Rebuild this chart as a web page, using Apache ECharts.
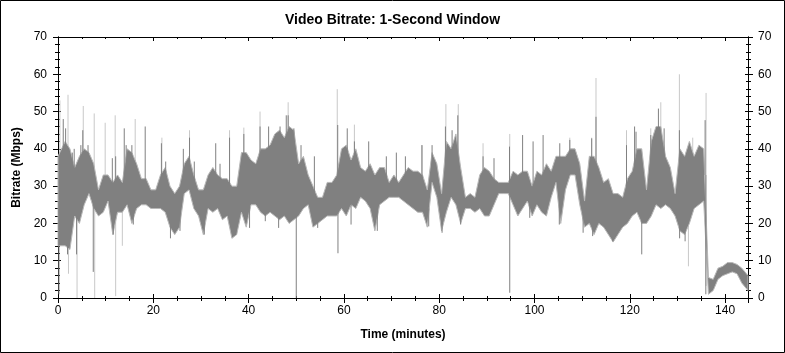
<!DOCTYPE html>
<html>
<head>
<meta charset="utf-8">
<script src="https://cdn.jsdelivr.net/npm/echarts@6/dist/echarts.min.js"></script>
<style>
html,body{margin:0;padding:0;background:#fff;}
#chart{width:785px;height:353px;}
</style>
</head>
<body>
<div id="chart"></div>
<script>
// Per-minute core envelope of the 1-second bitrate trace (Mbps).
// Bucket i covers minute i..i+1; hiValues = upper edge of the dense band, loValues = lower edge.
const hiValues = [
  38,42,40,35,38,40,39,36,29,33,
  33,31,33,31,40,39,36,32,32,29,
  29,33,35,30,28,30,36,38,33,29,
  29,33,35,33,32,32,30,30,39,39,
  37,36,40,40,41,44,45,43,46,45,
  36,38,33,30,27,27,31,31,33,40,
  41,37,40,35,34,36,33,35,35,31,
  33,31,33,35,34,34,33,29,39,36,
  28,42,40,44,35,27,28,27,33,35,
  34,32,31,31,31,34,33,34,34,30,
  34,33,36,34,38,38,38,40,40,36,
  26,38,38,35,31,32,28,28,27,32,
  34,40,40,29,42,46,46,38,35,28,
  40,38,42,38,41,40,5.5,5,8,8.5,
  9.5,9.5,9,8,6
];
const loValues = [
  14,14,13,22,20,25,28,24,22,23,
  26,17,23,23,25,20,24,25,25,24,
  24,24,23,19,17,19,28,29,24,22,
  17,24,23,24,21,22,16,17,23,19,
  25,25,23,22,23,22,21,22,20,21,
  22,24,25,19,20,21,22,22,22,24,
  22,25,24,27,26,24,18,25,26,27,
  27,27,26,25,24,23,23,19,31,27,
  18,23,27,25,20,24,24,23,24,22,
  22,25,28,28,28,25,22,24,26,22,
  25,23,22,27,31,20,29,33,33,25,
  19,20,17,20,19,17,15,17,19,20,
  22,23,20,20,22,25,24,25,24,22,
  18,17,20,24,25,26,1,2,5,6,
  6.5,7,6.5,4,2
];
// Isolated dark-grey excursions beyond the band: minutes / Mbps
const spikeTimes = [
  0.2,1.1,1.6,2.0,3.0,3.4,3.9,4.8,5.2,6.3,7.4,11.4,11.6,12.1,13.9,14.3,15.5,15.8,18.3,21.7,
  22.6,23.6,25.6,26.3,27.6,28.6,30.7,33.1,34.0,36.0,37.3,39.0,40.2,42.4,43.5,44.2,46.3,46.6,47.9,48.3,
  49.5,50.0,51.0,53.8,54.5,58.7,58.75,60.7,61.5,62.2,65.2,67.0,68.9,71.0,72.9,76.4,77.8,78.5,80.6,81.3,
  82.7,83.9,84.5,89.2,91.5,94.75,94.8,97.5,99.0,99.7,101.8,105.2,105.3,107.4,110.2,112.0,112.2,112.9,116.4,119.3,
  121.0,121.3,122.5,124.4,126.0,127.2,130.4,130.45,131.6,135.8,135.95
];
const spikeValues = [
  1,48,45.5,11.7,39,40,11.7,41,45,41,7,37.5,17,38,45.5,41,41,19.7,46,41.5,
  36.6,16,18,40,43,36.6,17,41.5,36,43,17,44,18.8,46,20.6,46,18.8,46,49,49,
  45.5,0,41,38,18.8,46.4,12,45.5,19.7,42,42,18,38,39,38,41,19.2,41,17.5,46,
  45,49,19.7,38,37.5,40.6,1.4,43.7,21.5,42,43.7,19.7,41.5,42.4,17.5,42.8,16.6,48.6,15.2,41,
  46,44.6,11.7,43.7,50.8,45.5,45,16,15.2,47.7,1
];
// Isolated light-grey peaks: minutes / Mbps
const peakTimes  = [0.4,2.1,2.2,4.0,5.3,7.6,7.7,9.9,12.0,12.1,13.5,16.2,21.8,27.6,36.0,39.0,42.4,48.3,58.6,62.2,76.3,81.4,84.0,89.2,94.8,107.4,112.0,112.9,119.3,124.4,126.5,130.4,132.3,133.2,136.0];
const peakValues = [53,54.5,6.5,0,51.5,49.5,0,47,49,0.5,14,48,43,45,45,45.7,50,52.5,56,46.5,41,52,52,41.5,44,43,43,59,45,45.5,52.5,60,8.5,43,55];

const yTicks = {min:0, max:70, interval:10};
const xTicks = {min:0, max:144.8, interval:20};

// Band data: [time, hi, lo] at each bucket centre
const band = hiValues.map((h, i) => {
  let t = i + 0.5;
  if (i === 0) t = xTicks.min;
  if (i === hiValues.length - 1) t = xTicks.max;
  return [t, h, loValues[i]];
});
function spikeLines(times, values) {
  const out = [];
  for (let k = 0; k < times.length; k++) {
    const b = Math.min(Math.floor(times[k]), hiValues.length - 1);
    const mid = (hiValues[b] + loValues[b]) / 2;
    out.push([times[k], mid]);
    out.push([times[k], values[k]]);
    out.push([times[k], '-']);
  }
  return out;
}
const darkSpikes = spikeLines(spikeTimes, spikeValues);
const lightPeaks = spikeLines(peakTimes, peakValues);

const FONT = "'Liberation Sans', Arial, sans-serif";
const black = '#000';

function xAx(opts) {
  return Object.assign({
    type: 'value', min: xTicks.min, max: xTicks.max, interval: xTicks.interval,
    gridIndex: 0, splitLine: {show:false},
    axisLine: {show:true, onZero:false, lineStyle:{color:black, width:1}},
    axisLabel: {show:false}
  }, opts);
}
function yAx(opts) {
  return Object.assign({
    type: 'value', min: yTicks.min, max: yTicks.max, interval: yTicks.interval,
    gridIndex: 0, splitLine: {show:false},
    axisLine: {show:true, onZero:false, lineStyle:{color:black, width:1}},
    axisLabel: {show:false}
  }, opts);
}
const labelStyle = {color:black, fontFamily:FONT, fontSize:12};

function renderBand(params, api) {
  if (params.dataIndex !== 0) return null;
  const n = band.length;
  const upper = [], lower = [];
  for (let j = 0; j < n; j++) {
    upper.push(api.coord([api.value(0, j), api.value(1, j)]));
    lower.push(api.coord([api.value(0, j), api.value(2, j)]));
  }
  return {
    type: 'polygon',
    shape: {points: upper.concat(lower.reverse())},
    style: {fill: '#808080', stroke: '#b8b8b8', lineWidth: 1}
  };
}

const chart = echarts.init(document.getElementById('chart'), null, {renderer:'canvas'});
chart.setOption({
  animation: false,
  backgroundColor: '#fff',
  title: {
    text: 'Video Bitrate: 1-Second Window', left: 'center', top: 8,
    textStyle: {fontFamily: FONT, fontSize: 14, fontWeight: 'bold', color: black}
  },
  grid: {left: 58, right: 37, top: 37, bottom: 55},
  xAxis: [
    xAx({position:'bottom',
      axisTick:{show:true, inside:false, length:5, lineStyle:{color:black}},
      minorTick:{show:true, splitNumber:4, length:3, lineStyle:{color:black}},
      axisLabel:Object.assign({show:true, margin:7, showMaxLabel:false}, labelStyle),
      name:'Time (minutes)', nameLocation:'middle', nameGap:31,
      nameTextStyle:{fontFamily:FONT, fontSize:12, fontWeight:'bold', color:black}}),
    xAx({position:'bottom',
      axisTick:{show:true, inside:true, length:4, lineStyle:{color:black}},
      minorTick:{show:true, splitNumber:4, length:2, lineStyle:{color:black}}}),
    xAx({position:'top',
      axisTick:{show:true, inside:true, length:4, lineStyle:{color:black}},
      minorTick:{show:true, splitNumber:4, length:2, lineStyle:{color:black}}})
  ],
  yAxis: [
    yAx({position:'left',
      axisTick:{show:true, inside:false, length:5, lineStyle:{color:black}},
      minorTick:{show:true, splitNumber:5, length:3, lineStyle:{color:black}},
      axisLabel:Object.assign({show:true, margin:11}, labelStyle),
      name:'Bitrate (Mbps)', nameLocation:'middle', nameGap:34,
      nameTextStyle:{fontFamily:FONT, fontSize:12, fontWeight:'bold', color:black}}),
    yAx({position:'left',
      axisTick:{show:true, inside:true, length:3, lineStyle:{color:black}},
      minorTick:{show:true, splitNumber:5, length:2, lineStyle:{color:black}}}),
    yAx({position:'right',
      axisTick:{show:true, inside:false, length:5, lineStyle:{color:black}},
      minorTick:{show:true, splitNumber:5, length:3, lineStyle:{color:black}},
      axisLabel:Object.assign({show:true, margin:10}, labelStyle)}),
    yAx({position:'right',
      axisTick:{show:true, inside:true, length:3, lineStyle:{color:black}},
      minorTick:{show:true, splitNumber:5, length:2, lineStyle:{color:black}}})
  ],
  series: [
    {type:'line', xAxisIndex:0, yAxisIndex:0, data:lightPeaks, showSymbol:false, symbol:'none',
      connectNulls:false, lineStyle:{color:'#c8c8c8', width:1}, z:1, silent:true},
    {type:'custom', xAxisIndex:0, yAxisIndex:0, data:band, renderItem:renderBand,
      encode:{x:0, y:[1,2]}, z:2, silent:true},
    {type:'line', xAxisIndex:0, yAxisIndex:0, data:darkSpikes, showSymbol:false, symbol:'none',
      connectNulls:false, lineStyle:{color:'#808080', width:1}, z:3, silent:true}
  ],
  graphic: [{
    type:'rect', silent:true, z:100,
    shape:{x:0.5, y:0.5, width:784, height:352},
    style:{fill:'none', stroke:black, lineWidth:1}
  }]
});
</script>
</body>
</html>
